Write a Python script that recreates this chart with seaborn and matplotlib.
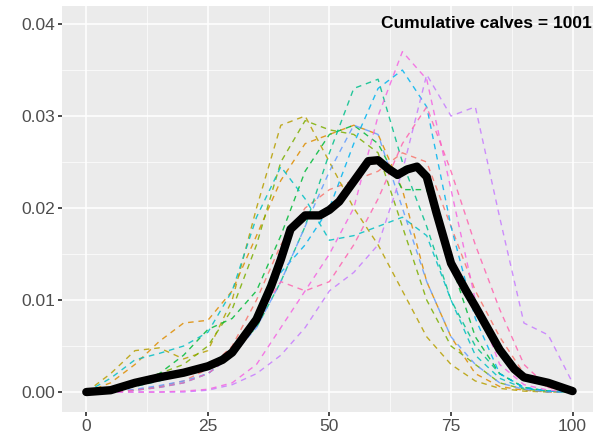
import matplotlib
matplotlib.use("Agg")
import matplotlib.pyplot as plt
import pandas as pd
import seaborn as sns
from matplotlib.ticker import MultipleLocator

# grid of x values (percent) for the dashed per-group densities
x = [0, 5, 10, 15, 20, 25, 30, 35, 40, 45, 50, 55, 60, 65, 70, 75, 80, 85, 90, 95, 100]

grp_a = [0, 0.002, 0.0045, 0.0048, 0.0036, 0.0045, 0.010, 0.020, 0.029, 0.0300, 0.025, 0.020, 0.016, 0.011, 0.006, 0.003, 0.0012, 0.0004, 0.0001, 0, 0]
grp_b = [0, 0.001, 0.003, 0.0055, 0.0075, 0.0078, 0.011, 0.017, 0.023, 0.027, 0.028, 0.029, 0.028, 0.022, 0.012, 0.006, 0.002, 0.0006, 0.0002, 0, 0]
grp_c = [0, 0.0005, 0.0012, 0.002, 0.003, 0.005, 0.009, 0.016, 0.025, 0.0295, 0.0285, 0.028, 0.026, 0.018, 0.010, 0.005, 0.003, 0.001, 0.0003, 0.0001, 0]
grp_d = [0, 0.0003, 0.001, 0.002, 0.004, 0.0068, 0.008, 0.011, 0.017, 0.024, 0.028, 0.029, 0.027, 0.022, 0.022, 0.014, 0.006, 0.002, 0.0005, 0.0001, 0]
grp_e = [0, 0.0002, 0.0006, 0.0012, 0.002, 0.003, 0.0045, 0.007, 0.012, 0.018, 0.026, 0.033, 0.034, 0.025, 0.018, 0.010, 0.005, 0.002, 0.0005, 0.0001, 0]
grp_f = [0, 0.0015, 0.0035, 0.0042, 0.005, 0.0065, 0.011, 0.019, 0.0245, 0.021, 0.0165, 0.017, 0.018, 0.019, 0.017, 0.010, 0.004, 0.0015, 0.0004, 0.0001, 0]
grp_g = [0, 0, 0.0002, 0.0005, 0.001, 0.002, 0.004, 0.008, 0.013, 0.016, 0.020, 0.027, 0.033, 0.035, 0.031, 0.018, 0.008, 0.002, 0.0005, 0.0001, 0]
grp_h = [0, 0, 0.0003, 0.0007, 0.0012, 0.002, 0.004, 0.007, 0.012, 0.018, 0.024, 0.029, 0.028, 0.020, 0.012, 0.006, 0.003, 0.001, 0.0003, 0, 0]
grp_i = [0, 0, 0, 0, 0, 0.0002, 0.0008, 0.002, 0.004, 0.007, 0.011, 0.013, 0.016, 0.024, 0.0345, 0.030, 0.031, 0.019, 0.0075, 0.0062, 0.001]
grp_j = [0, 0, 0, 0, 0.0001, 0.0003, 0.001, 0.003, 0.007, 0.011, 0.015, 0.020, 0.030, 0.037, 0.034, 0.022, 0.010, 0.003, 0.0008, 0.0002, 0]
grp_k = [0, 0, 0.0002, 0.0005, 0.001, 0.002, 0.004, 0.008, 0.012, 0.011, 0.012, 0.016, 0.021, 0.027, 0.031, 0.024, 0.016, 0.009, 0.003, 0.0005, 0]
grp_l = [0, 0, 0.0002, 0.0006, 0.0012, 0.0025, 0.005, 0.010, 0.016, 0.020, 0.022, 0.023, 0.024, 0.026, 0.025, 0.018, 0.011, 0.006, 0.002, 0.0005, 0]

groups = [grp_l, grp_b, grp_a, grp_c, grp_d, grp_e, grp_f, grp_g, grp_h, grp_i, grp_j, grp_k]
group_names = ["g1", "g2", "g3", "g4", "g5", "g6", "g7", "g8", "g9", "g10", "g11", "g12"]
hue_cols = ["#F8766D", "#DE8C00", "#B79F00", "#7CAE00", "#00BA38", "#00C08B",
            "#00BFC4", "#00B4F0", "#619CFF", "#C77CFF", "#F564E3", "#FF64B0"]

# cumulative (all calves) density
cum_x = [0, 5, 10, 15, 20, 25, 28, 30, 35, 38, 40, 42, 45, 48, 50, 52, 55, 58, 60, 62, 64,
         66, 68, 70, 72, 75, 78, 80, 85, 88, 90, 95, 100]
cum_y = [0, 0.0002, 0.001, 0.0016, 0.0021, 0.0028, 0.0035, 0.0043, 0.0079, 0.0115, 0.0144,
         0.0177, 0.0192, 0.0192, 0.0198, 0.0207, 0.0229, 0.0251, 0.0252, 0.0243, 0.0236,
         0.0242, 0.0245, 0.0234, 0.0195, 0.014, 0.0111, 0.0093, 0.0046, 0.0025, 0.0016,
         0.001, 0.0001]

rows = []
for name, vals in zip(group_names, groups):
    for xv, yv in zip(x, vals):
        rows.append({"pct": xv, "density": yv, "group": name})
df = pd.DataFrame(rows)
cum = pd.DataFrame({"pct": cum_x, "density": cum_y})

sns.set_theme(style="darkgrid", rc={"axes.facecolor": "#EBEBEB", "grid.color": "white"})
plt.rcParams["font.family"] = ["Liberation Sans", "DejaVu Sans"]

fig = plt.figure(figsize=(5.93, 4.33), dpi=100)
ax = fig.add_axes([62 / 593, 21 / 433, 531 / 593, 406 / 433])

sns.lineplot(data=df, x="pct", y="density", hue="group", palette=hue_cols,
             linewidth=1.0, alpha=0.85, legend=False, ax=ax)
for ln in ax.get_lines():
    ln.set_linestyle((0, (4, 3.5)))

sns.lineplot(data=cum, x="pct", y="density", color="black", linewidth=6, ax=ax)

ax.set_xlim(-5, 104.2)
ax.set_ylim(-0.00217, 0.04196)
ax.xaxis.set_major_locator(MultipleLocator(25))
ax.xaxis.set_minor_locator(MultipleLocator(12.5))
ax.yaxis.set_major_locator(MultipleLocator(0.01))
ax.yaxis.set_minor_locator(MultipleLocator(0.005))
ax.set_yticklabels([f"{v:.2f}" for v in ax.get_yticks()])
ax.grid(which="major", color="white", linewidth=1.1)
ax.grid(which="minor", color="white", linewidth=0.5)
ax.tick_params(which="major", length=3, color="#333333", labelcolor="#4D4D4D",
               labelsize=12.5, left=True, bottom=True, pad=2)
ax.tick_params(which="minor", length=0)
ax.set_xlabel("")
ax.set_ylabel("")
for s in ax.spines.values():
    s.set_visible(False)

ax.text(0.998, 0.956, "Cumulative calves = 1001", transform=ax.transAxes,
        ha="right", va="center", fontsize=12.5, fontweight="bold", color="black")

fig.savefig("out.png", dpi=100)
